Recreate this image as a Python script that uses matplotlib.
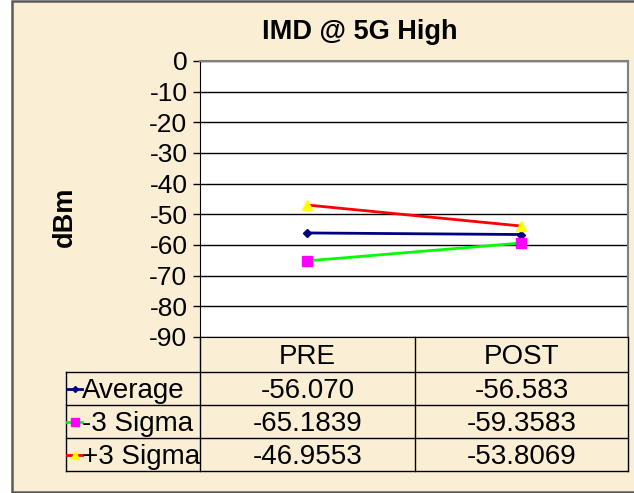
import matplotlib.pyplot as plt
import matplotlib.patches as patches
import numpy as np

plt.rcParams['font.family'] = ['Liberation Sans', 'DejaVu Sans']

# dados
categorias = ['PRE', 'POST']
series = ['Average', '-3 Sigma', '+3 Sigma']
media = [-56.070, -56.583]
menos_3sigma = [-65.1839, -59.3583]
mais_3sigma = [-46.9553, -53.8069]
formatos = ['%.3f', '%.4f', '%.4f']
yticks = list(range(0, -100, -10))

valores = [media, menos_3sigma, mais_3sigma]
cores_linha = ['#000080', '#00FF00', '#FF0000']
cores_marc = ['#000080', '#FF00FF', '#FFFF00']
marcadores = ['D', 's', '^']
tam_marc = [4, 7, 7]

W, H = 634, 493
fig = plt.figure(figsize=(W / 100, H / 100), dpi=100)
fig.patch.set_facecolor('white')

# fundo
bg = fig.add_axes([0, 0, 1, 1], zorder=-5)
bg.set_xlim(0, W)
bg.set_ylim(H, 0)
bg.axis('off')
bg.add_patch(patches.Rectangle((12, 1), W, H - 2, facecolor='#FAEFD5',
                               edgecolor='#5a5a5a', linewidth=1.8))

x0, x1, y0, y1 = 200, 628, 61, 337
ax = fig.add_axes([x0 / W, 1 - y1 / H, (x1 - x0) / W, (y1 - y0) / H])
ax.set_facecolor('white')
ax.set_xlim(0, 2)
ax.set_ylim(-90, 0)
ax.set_yticks(yticks)
ax.set_yticklabels([str(t) for t in yticks], fontsize=19)
ax.set_xticks([])
ax.tick_params(axis='y', length=5, width=1, pad=4, direction='out')
ax.grid(axis='y', color='black', linewidth=1)
for s in ['top', 'right']:
    ax.spines[s].set_color('#808080')
    ax.spines[s].set_linewidth(1.5)
ax.spines['left'].set_color('black')
ax.spines['bottom'].set_color('black')

xs = np.arange(len(categorias)) + 0.5
for v, cl, cm, mk, ms in zip(valores, cores_linha, cores_marc, marcadores, tam_marc):
    ax.plot(xs, v, color=cl, linewidth=2, marker=mk, markersize=ms,
            markerfacecolor=cm, markeredgecolor=cm, zorder=3)

fig.text(360 / W, 1 - 32 / H, 'IMD @ 5G High', fontsize=19.5, fontweight='bold',
         ha='center', va='center')
fig.text(65 / W, 1 - 217 / H, 'dBm', fontsize=19.5, fontweight='bold',
         rotation=90, ha='center', va='center')

# tabela de dados
tb = fig.add_axes([0, 0, 1, 1])
tb.set_xlim(0, W)
tb.set_ylim(H, 0)
tb.axis('off')

cols = [66, 200, 415, 628]
linhas = [337, 372, 405, 438, 471]
lc = dict(color='black', linewidth=1)
for yy in linhas[1:]:
    tb.plot([cols[0], cols[-1]], [yy, yy], **lc)
tb.plot([cols[0], cols[0]], [linhas[1], linhas[-1]], **lc)
for xx in cols[1:]:
    tb.plot([xx, xx], [linhas[0], linhas[-1]], **lc)

for j, c in enumerate(categorias):
    tb.text((cols[j + 1] + cols[j + 2]) / 2, (linhas[0] + linhas[1]) / 2 + 2.5, c,
            fontsize=20, ha='center', va='center')

for i, nome in enumerate(series):
    yc = (linhas[i + 1] + linhas[i + 2]) / 2
    tb.plot([67, 82], [yc, yc], color=cores_linha[i], linewidth=2)
    tb.plot([74.5], [yc], marker=marcadores[i], markersize=tam_marc[i] - 1,
            color=cores_marc[i], markeredgecolor=cores_marc[i])
    tb.text(82, yc + 2.5, nome, fontsize=20, ha='left', va='center')
    for j in range(len(categorias)):
        tb.text((cols[j + 1] + cols[j + 2]) / 2, yc + 2.5, formatos[i] % valores[i][j],
                fontsize=20, ha='center', va='center')

fig.savefig('out.png', dpi=100, facecolor=fig.get_facecolor())
